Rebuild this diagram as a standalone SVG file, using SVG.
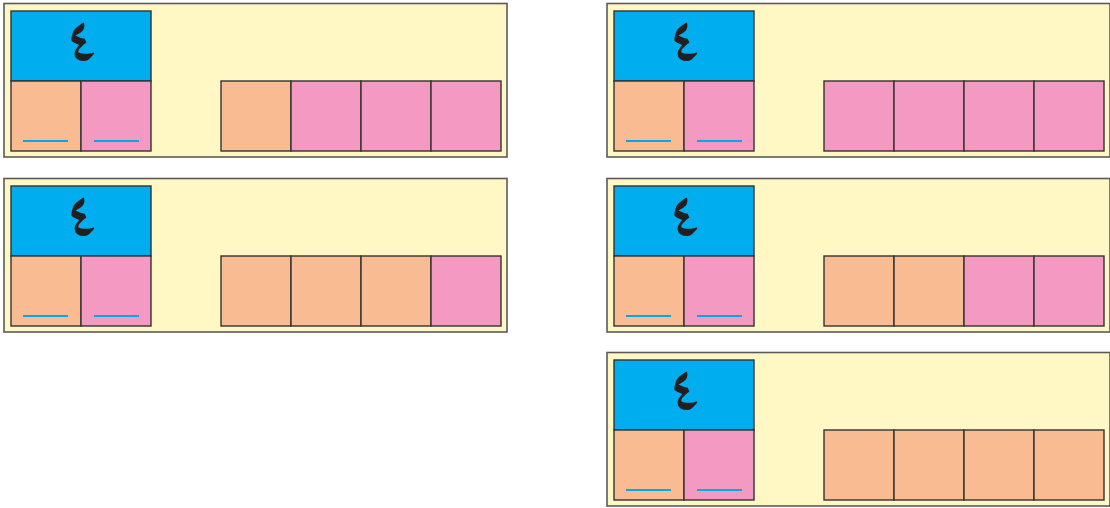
<svg xmlns="http://www.w3.org/2000/svg" width="1110" height="508" viewBox="0 0 1110 508">
<style>
.panel{fill:#FFF8C4;stroke:#5a5a5a;stroke-width:1.6}
.blue{fill:#00ADEE;stroke:#333;stroke-width:1.4}
.peach{fill:#F9BB91;stroke:#333;stroke-width:1.4}
.pink{fill:#F49AC2;stroke:#333;stroke-width:1.4}
.ul{stroke:#00A9EC;stroke-width:2}
.digit{font-family:"Noto Naskh Arabic","DejaVu Sans",serif;font-size:60px;font-weight:bold;fill:#231F20;text-anchor:middle}
</style>
<defs>
<g id="head">
<rect class="panel" x="4" y="3.5" width="503" height="153.5"/>
<rect class="blue" x="11" y="11" width="140" height="70"/>
<text class="digit" x="82" y="61">٤</text>
<rect class="peach" x="11" y="81" width="70" height="70"/>
<rect class="pink" x="81" y="81" width="70" height="70"/>
<line class="ul" x1="23" y1="141" x2="68" y2="141"/>
<line class="ul" x1="94" y1="141" x2="139" y2="141"/>
</g>
</defs>
<g id="panel-1">
<use href="#head"/>
<rect class="peach" x="221" y="81" width="70" height="70"/>
<rect class="pink" x="291" y="81" width="70" height="70"/>
<rect class="pink" x="361" y="81" width="70" height="70"/>
<rect class="pink" x="431" y="81" width="70" height="70"/>
</g>
<g id="panel-2" transform="translate(0,175)">
<use href="#head"/>
<rect class="peach" x="221" y="81" width="70" height="70"/>
<rect class="peach" x="291" y="81" width="70" height="70"/>
<rect class="peach" x="361" y="81" width="70" height="70"/>
<rect class="pink" x="431" y="81" width="70" height="70"/>
</g>
<g id="panel-3" transform="translate(603,0)">
<use href="#head"/>
<rect class="pink" x="221" y="81" width="70" height="70"/>
<rect class="pink" x="291" y="81" width="70" height="70"/>
<rect class="pink" x="361" y="81" width="70" height="70"/>
<rect class="pink" x="431" y="81" width="70" height="70"/>
</g>
<g id="panel-4" transform="translate(603,175)">
<use href="#head"/>
<rect class="peach" x="221" y="81" width="70" height="70"/>
<rect class="peach" x="291" y="81" width="70" height="70"/>
<rect class="pink" x="361" y="81" width="70" height="70"/>
<rect class="pink" x="431" y="81" width="70" height="70"/>
</g>
<g id="panel-5" transform="translate(603,349)">
<use href="#head"/>
<rect class="peach" x="221" y="81" width="70" height="70"/>
<rect class="peach" x="291" y="81" width="70" height="70"/>
<rect class="peach" x="361" y="81" width="70" height="70"/>
<rect class="peach" x="431" y="81" width="70" height="70"/>
</g>
<g id="connectors"/>
</svg>
